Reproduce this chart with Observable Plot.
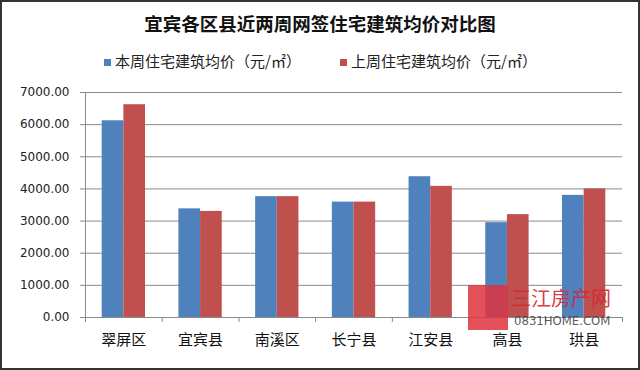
<!DOCTYPE html>
<html>
<head>
<meta charset="utf-8">
<script src="https://cdn.jsdelivr.net/npm/d3@7"></script>
<script src="https://cdn.jsdelivr.net/npm/@observablehq/plot@0.6"></script>
<style>
  html, body { margin: 0; padding: 0; background: #fff; }
  #wrap { position: relative; width: 640px; height: 370px; overflow: hidden; background: #fff; font-family: "Noto Sans CJK SC", sans-serif; }
  #title { position: absolute; left: 0; width: 640px; top: 10px; text-align: center; font-size: 18.5px; font-weight: bold; color: #111; line-height: 26px; }
  .leg { position: absolute; top: 50px; font-size: 15px; color: #222; line-height: 22px; white-space: nowrap; }
  .sw { display: inline-block; width: 7px; height: 7px; margin-right: 4px; vertical-align: 1px; }
  #chart { position: absolute; left: 0; top: 80px; }
  #border { position: absolute; left: 0; top: 0; width: 640px; height: 370px; box-sizing: border-box; border: 2px solid #333; pointer-events: none; z-index: 10; }
  #wm-box { position: absolute; left: 468px; top: 285px; width: 40px; height: 45px; background: rgba(222, 52, 62, 0.85); z-index: 5; }
  #wm-name { position: absolute; left: 511px; top: 284px; font-size: 20px; color: rgba(214, 40, 52, 0.92); z-index: 5; line-height: 28px; }
  #wm-url { position: absolute; left: 514px; top: 313px; font-size: 13px; color: rgba(70, 70, 70, 0.9); z-index: 5; font-family: "Liberation Sans Narrow", "DejaVu Sans Condensed", sans-serif; line-height: 16px; }
</style>
</head>
<body>
<div id="wrap">
  <div id="title">宜宾各区县近两周网签住宅建筑均价对比图</div>
  <div class="leg" id="leg1" style="left:104px"><span class="sw" style="background:#4F81BD"></span>本周住宅建筑均价（元/㎡）</div>
  <div class="leg" id="leg2" style="left:340px"><span class="sw" style="background:#C0504D"></span>上周住宅建筑均价（元/㎡）</div>
  <div id="chart"></div>
  <div id="wm-box"></div>
  <div id="wm-name">三江房产网</div>
  <div id="wm-url">0831HOME.COM</div>
  <div id="border"></div>
</div>
<script>
const categories = ["翠屏区", "宜宾县", "南溪区", "长宁县", "江安县", "高县", "珙县"];
const thisWeek = [6120, 3380, 3760, 3590, 4380, 2950, 3800];
const lastWeek = [6620, 3300, 3760, 3590, 4080, 3200, 4000];
const seriesNames = ["本周住宅建筑均价（元/㎡）", "上周住宅建筑均价（元/㎡）"];
const seriesColors = ["#4F81BD", "#C0504D"];
const yTicks = [0, 1000, 2000, 3000, 4000, 5000, 6000, 7000];

const rowsA = categories.map((c, i) => ({category: c, value: thisWeek[i]}));
const rowsB = categories.map((c, i) => ({category: c, value: lastWeek[i]}));

const W = 640, H = 290;
const mL = 85, mR = 18;
const band = (W - mL - mR) / categories.length;
const half = band / 2;
const outer = 16.7;

const chart = Plot.plot({
  width: W,
  height: H,
  marginLeft: mL,
  marginRight: mR,
  marginTop: 12,
  marginBottom: 53,
  style: {fontFamily: "DejaVu Sans, sans-serif", background: "#fff"},
  x: {type: "band", domain: categories, padding: 0, round: false, label: null},
  y: {domain: [0, 7000], label: null},
  marks: [
    Plot.gridY(yTicks, {stroke: "#8a8a8a", strokeOpacity: 1}),
    Plot.barY(rowsA, {x: "category", y: "value", fill: seriesColors[0], insetLeft: outer, insetRight: half}),
    Plot.barY(rowsB, {x: "category", y: "value", fill: seriesColors[1], insetLeft: half, insetRight: outer}),
    Plot.frame({anchor: "left", stroke: "#8a8a8a", strokeOpacity: 1}),
    Plot.ruleY([0], {stroke: "#8a8a8a"}),
    Plot.axisY(yTicks, {tickFormat: d3.format(".2f"), tickSize: 5, tickPadding: 11, fontSize: 12, fill: "#222", stroke: "#8a8a8a", strokeOpacity: 1, label: null}),
    Plot.axisX({tickSize: 5, tickFormat: () => "", dx: -half, stroke: "#8a8a8a", strokeOpacity: 1, label: null}),
    Plot.axisX([categories[categories.length - 1]], {tickSize: 5, tickFormat: () => "", dx: half, stroke: "#8a8a8a", strokeOpacity: 1, label: null}),
    Plot.axisX({tickSize: 0, tickPadding: 17, fontSize: 15, fill: "#111", fontFamily: "Noto Sans CJK SC, sans-serif", label: null})
  ]
});
document.getElementById("chart").appendChild(chart);
</script>
</body>
</html>
